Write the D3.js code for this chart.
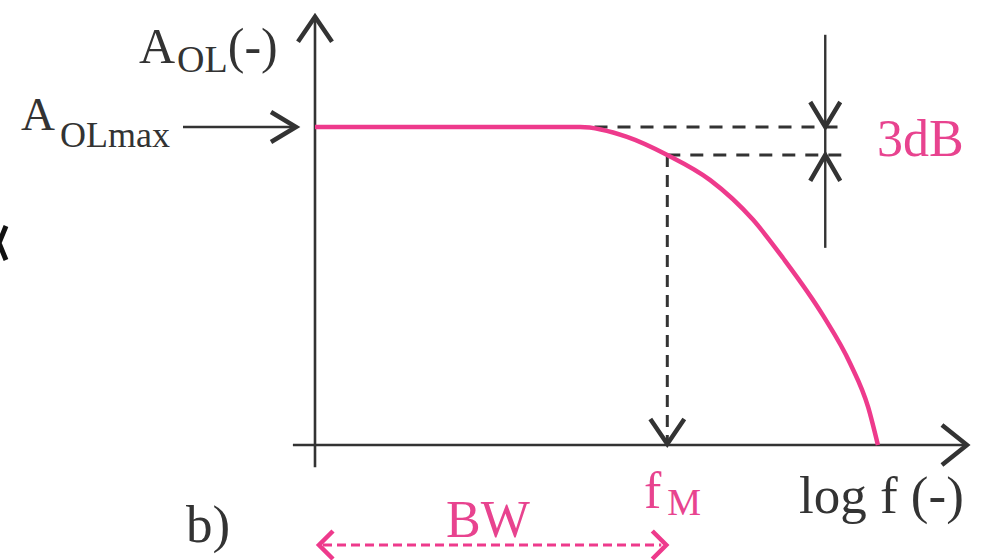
<!DOCTYPE html>
<html>
<head>
<meta charset="utf-8">
<script src="https://cdn.jsdelivr.net/npm/d3@7/dist/d3.min.js"></script>
<style>
  html, body { margin: 0; padding: 0; background: #fff; }
  svg { display: block; }
</style>
</head>
<body>
<svg id="chart" width="981" height="560"></svg>
<script>
// Open-loop gain response sketched against log frequency (schematic units)
const logF = [0, 4.08, 4.80, 5.42, 6.08, 6.74, 7.20, 7.82, 8.23, 8.51, 8.66];
const gainOL = [10, 10, 9.69, 9.12, 8.33, 7.08, 5.88, 4.06, 2.58, 1.19, 0];

const aOLmax = 10;       // flat-band gain
const gain3dB = 9.12;    // gain 3 dB below the maximum
const fM = 5.42;         // corner frequency
const markerF = 7.85;    // where the 3 dB bracket stands

const xDomain = [0, 10];
const yDomain = [0, 10];

const dark = "#333333";
const pink = "#ee3a8c";
const pinkText = "#e8438f";
const serif = "Liberation Serif";

const svg = d3.select("#chart");

const x = d3.scaleLinear().domain(xDomain).range([315, 965]);
const y = d3.scaleLinear().domain(yDomain).range([445, 127]);

// chevron arrowhead with its tip at (tx, ty)
function chevron(tx, ty, dx, dy, dir, color, w) {
  let p;
  if (dir === "up") p = [[tx - dx, ty + dy], [tx, ty], [tx + dx, ty + dy]];
  if (dir === "down") p = [[tx - dx, ty - dy], [tx, ty], [tx + dx, ty - dy]];
  if (dir === "right") p = [[tx - dx, ty - dy], [tx, ty], [tx - dx, ty + dy]];
  if (dir === "left") p = [[tx + dx, ty - dy], [tx, ty], [tx + dx, ty + dy]];
  svg.append("path")
    .attr("d", d3.line()(p))
    .attr("fill", "none")
    .attr("stroke", color)
    .attr("stroke-width", w)
    .attr("stroke-linejoin", "miter");
}

function label(xp, yp, color, size) {
  return svg.append("text")
    .attr("x", xp).attr("y", yp)
    .attr("fill", color)
    .attr("font-size", size)
    .attr("font-family", serif);
}

// stray glyph at the left margin
svg.append("path")
  .attr("d", d3.line()([[6, 226], [-1, 243], [6, 260]]))
  .attr("fill", "none").attr("stroke", "#111").attr("stroke-width", 5);

// axes
svg.append("line")
  .attr("x1", x(0)).attr("x2", x(0))
  .attr("y1", y(-0.7)).attr("y2", y(13.5))
  .attr("stroke", dark).attr("stroke-width", 2.6);
chevron(x(0), y(13.5) + 1, 17, 25, "up", dark, 4.5);

svg.append("line")
  .attr("x1", x(-0.34)).attr("x2", x(10.03))
  .attr("y1", y(0)).attr("y2", y(0))
  .attr("stroke", dark).attr("stroke-width", 2.6);
chevron(x(10.03), y(0), 25, 20, "right", dark, 4.5);

// dashed guides
const dash = "13,10";
svg.append("line")
  .attr("x1", x(4.3)).attr("x2", x(8.18))
  .attr("y1", y(aOLmax)).attr("y2", y(aOLmax))
  .attr("stroke", dark).attr("stroke-width", 3).attr("stroke-dasharray", dash);
svg.append("line")
  .attr("x1", x(fM)).attr("x2", x(8.18))
  .attr("y1", y(gain3dB)).attr("y2", y(gain3dB))
  .attr("stroke", dark).attr("stroke-width", 3).attr("stroke-dasharray", dash);
svg.append("line")
  .attr("x1", x(fM)).attr("x2", x(fM))
  .attr("y1", y(gain3dB)).attr("y2", y(0) - 4)
  .attr("stroke", dark).attr("stroke-width", 3).attr("stroke-dasharray", "12,8");
chevron(x(fM), y(0) - 1, 17, 25, "down", dark, 4.5);

// 3 dB bracket
svg.append("line")
  .attr("x1", x(markerF)).attr("x2", x(markerF))
  .attr("y1", y(12.9)).attr("y2", y(6.2))
  .attr("stroke", dark).attr("stroke-width", 2.4);
chevron(x(markerF), y(aOLmax), 15, 25, "down", dark, 4.5);
chevron(x(markerF), y(gain3dB), 15, 26, "up", dark, 4.5);

// gain curve
svg.append("path")
  .datum(logF.map((f, i) => [f, gainOL[i]]))
  .attr("d", d3.line().x(d => x(d[0])).y(d => y(d[1])).curve(d3.curveMonotoneX))
  .attr("fill", "none")
  .attr("stroke", pink)
  .attr("stroke-width", 4.5);

// A_OL(-) label
const aol = label(139, 63, dark, 50);
aol.append("tspan").text("A");
aol.append("tspan").attr("font-size", 38).attr("dy", 9).attr("dx", 2).text("OL");
aol.append("tspan").attr("dy", -9).text("(-)");

// A_OLmax label with pointer
const amax = label(21, 130, dark, 47);
amax.append("tspan").text("A");
amax.append("tspan").attr("font-size", 36).attr("dy", 17).attr("dx", 5).text("OLmax");
svg.append("line")
  .attr("x1", 183).attr("x2", x(0) - 19)
  .attr("y1", y(aOLmax)).attr("y2", y(aOLmax))
  .attr("stroke", dark).attr("stroke-width", 2.6);
chevron(x(0) - 19, y(aOLmax), 25, 15, "right", dark, 4.5);

// 3dB label
label(877, 156, pinkText, 52).text("3dB");

// f_M label
const fm = label(644, 508, pinkText, 52);
fm.append("tspan").text("f");
fm.append("tspan").attr("font-size", 38).attr("dy", 7).attr("dx", 6).text("M");

// axis title
label(799, 513, dark, 53).text("log f (-)");

// bandwidth span
svg.append("line")
  .attr("x1", x(0) + 8).attr("x2", x(fM) - 6)
  .attr("y1", 545).attr("y2", 545)
  .attr("stroke", pink).attr("stroke-width", 3).attr("stroke-dasharray", "9,5");
chevron(x(0) + 4, 545, 14, 14, "left", pink, 4.5);
chevron(x(fM) - 1, 545, 14, 14, "right", pink, 4.5);
label(446, 537, pinkText, 52).text("BW");

// panel tag
label(186, 542, dark, 53).text("b)");
</script>
</body>
</html>
